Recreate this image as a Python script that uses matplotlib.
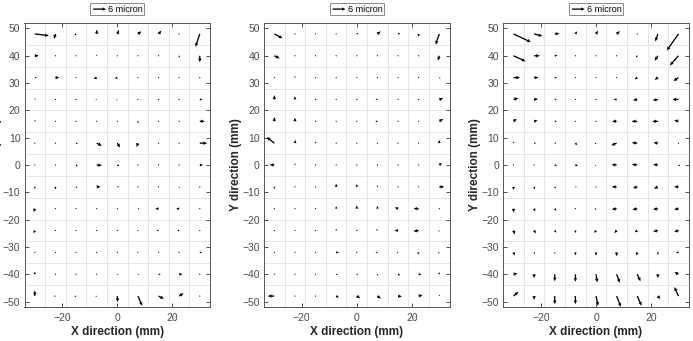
import matplotlib
matplotlib.use("Agg")
import matplotlib.pyplot as plt
import numpy as np

plt.rcParams['font.family'] = ['Liberation Sans', 'DejaVu Sans']

# grid of measuring points (mm)
x_pts = [-30, -22.5, -15, -7.5, 0, 7.5, 15, 22.5, 30]
y_pts = [48, 40, 32, 24, 16, 8, 0, -8, -16, -24, -32, -40, -48]

# displacement (micron), rows follow y_pts, columns follow x_pts
u1 = [[6.5, -0.6, -0.8, 0.1, 0.8, 1.6, 1.3, 0.2, -2.0],
      [1.8, 0.2, 0.2, -0.3, -0.3, 0.1, 0.1, 0.0, 0.0],
      [0.9, 1.8, 0.1, -1.4, -1.2, 0.3, 0.1, 0.1, 0.1],
      [0.2, 0.4, 0.1, -0.6, -0.5, 0.2, -0.6, -0.5, 1.2],
      [0.1, 0.1, 0.1, 0.1, 0.1, 0.0, 0.4, 0.3, 2.3],
      [0.1, 0.1, 0.9, 2.4, 1.3, -0.6, 0.1, 0.2, 3.4],
      [0.1, 0.1, 0.8, 2.4, 1.0, 0.1, 0.1, 0.1, 1.5],
      [0.0, 0.0, 0.6, 1.8, 0.8, 0.5, 0.1, 0.0, 0.1],
      [-0.5, 0.1, 0.1, 0.1, 0.1, 0.7, -1.5, -1.4, 0.1],
      [-0.5, 0.1, 0.5, 0.1, 0.1, 0.6, -1.0, -1.0, 0.1],
      [0.1, 0.0, 0.4, 0.3, 0.1, 0.3, 0.3, 0.3, 1.0],
      [0.0, 0.5, 0.1, 0.3, 0.5, 0.5, 1.0, 1.5, 0.4],
      [0.0, -0.8, -0.8, -0.6, 0.2, 2.0, 2.5, 2.0, 0.2]]
v1 = [[-0.8, -2.3, -0.6, 2.0, 1.8, 1.2, 1.5, 0.2, -6.0],
      [0.0, 0.1, 0.1, 0.6, 0.4, 0.1, 0.1, -0.9, -3.0],
      [0.0, 0.0, 0.1, -0.6, -0.4, 0.5, 0.1, 0.1, 0.1],
      [0.7, 0.0, 0.0, -0.2, -0.4, 0.1, 0.0, 0.0, 0.0],
      [0.8, 0.0, 0.0, 0.0, 0.1, -1.0, 0.4, 0.3, 0.0],
      [0.0, 0.0, -0.2, -1.2, -2.0, -1.8, 0.1, 0.5, 0.0],
      [0.0, 0.0, -0.6, -0.2, -0.5, 0.1, 0.0, 0.1, 0.0],
      [-1.0, -1.2, -0.6, 0.1, 0.1, 0.0, 0.0, -0.7, 0.0],
      [-1.6, 0.0, 0.0, 0.0, 0.0, 0.0, 0.0, 0.0, 0.0],
      [-1.3, 0.0, 0.0, 0.0, 0.0, 0.0, 0.0, 0.0, 0.0],
      [0.0, 0.6, -0.4, 0.0, 0.0, 0.0, 0.0, 0.0, 0.0],
      [1.2, 0.0, 0.0, 0.0, -0.4, -0.4, 0.0, 0.0, 0.0],
      [2.6, 0.0, -0.3, -0.3, -2.8, -4.5, -1.3, 1.4, 0.1]]

u2 = [[3.8, 0.1, 0.1, 0.1, 0.8, 1.5, 1.0, 0.0, -1.7],
      [2.5, 0.1, 0.1, 0.1, 0.1, 0.1, 0.1, 0.1, -0.6],
      [0.3, 0.0, 0.1, -0.6, -0.6, -0.6, 0.1, 0.1, 0.6],
      [0.0, 0.0, 0.1, 0.1, -0.6, -0.9, 0.1, -0.4, 1.8],
      [0.0, 0.0, 0.1, 0.1, -0.4, -1.0, 0.1, -0.4, 1.8],
      [-3.5, 0.3, 0.0, 0.1, 0.1, 0.1, 0.1, 0.1, 0.0],
      [-2.1, 0.0, 0.0, 0.1, 0.1, 0.1, 0.1, 0.1, 1.2],
      [0.0, 0.1, 0.3, 0.0, 0.0, 0.0, 0.1, 0.4, 2.3],
      [0.1, 0.1, 0.3, 0.0, 0.0, 0.0, -1.5, -2.4, 0.2],
      [0.1, 0.1, 0.1, 0.0, 0.0, -0.6, -1.6, -2.4, -0.5],
      [0.1, 0.1, 0.3, 1.3, 0.1, -0.9, -0.6, -0.4, -0.6],
      [0.1, 0.1, 0.1, 0.7, 0.6, 0.0, 1.0, 1.3, 0.0],
      [-3.0, 0.1, 0.5, 1.3, 1.6, 1.6, 1.8, 1.8, 0.0]]
v2 = [[-2.0, 0.0, 0.0, 0.0, 0.4, 1.2, 0.3, -1.3, -5.0],
      [-1.2, 0.0, 0.0, 0.0, 0.0, 0.0, 0.0, 0.0, -2.3],
      [-0.2, 0.8, 0.0, 0.0, 0.0, 0.0, 0.0, 0.0, -0.4],
      [2.0, 1.5, 0.0, 0.0, 0.0, 0.0, 0.0, 0.0, 0.5],
      [2.0, 1.7, 0.0, 0.0, 0.0, 0.0, 0.0, 0.0, 1.1],
      [2.8, 1.5, 0.8, 0.0, 0.0, 0.0, 0.0, 0.0, 1.5],
      [0.1, 0.8, 0.6, 0.0, 0.0, 0.0, 0.0, 0.0, 1.0],
      [-1.0, 0.0, 0.0, 1.5, 1.3, 0.8, 0.0, 0.0, 0.0],
      [0.0, 0.0, 0.0, 1.2, 1.5, 1.3, 0.6, 0.0, 0.0],
      [0.0, 0.0, 0.0, 0.9, 0.6, 0.6, 0.0, -0.3, -0.5],
      [0.0, 0.0, 0.0, 0.0, 0.0, 0.0, -0.4, -1.1, -0.5],
      [0.0, 0.0, 0.0, -0.4, -0.5, -0.8, -0.6, 0.0, 1.0],
      [0.0, 0.0, 0.0, -0.7, -1.0, -1.2, -0.2, 0.5, 0.7]]

u3 = [[8.0, 3.8, 2.2, 0.8, 1.0, 1.5, 0.6, -1.2, -5.4],
      [5.6, 2.6, 1.2, 0.1, 0.1, 0.1, -0.7, -1.5, -4.0],
      [3.0, 2.0, 1.0, 0.1, 0.6, -0.6, -1.2, -1.5, -2.3],
      [2.2, 1.8, 0.9, 0.1, 0.5, -1.3, -2.0, -2.4, -2.8],
      [1.5, 1.6, 1.0, 0.1, 0.5, -2.1, -2.6, -2.6, -2.0],
      [0.0, 0.9, 0.8, 0.9, -0.6, -2.5, -2.5, -2.0, -0.4],
      [0.1, 0.5, 1.0, 1.2, -0.5, -2.3, -2.5, -2.2, 0.8],
      [0.0, 0.3, 0.5, 0.7, -0.5, -2.2, -2.0, -1.8, -2.0],
      [0.0, 0.5, 0.7, 0.1, -0.7, -2.2, -2.2, -2.2, -2.0],
      [0.6, 0.8, 0.7, 0.0, -0.7, -1.0, -1.2, -2.2, -2.0],
      [0.6, 0.4, 0.0, 0.0, 0.0, 0.0, -0.4, 0.0, -1.2],
      [1.8, 0.0, 0.0, 0.0, 0.6, 1.5, 1.5, 0.0, -1.9],
      [2.3, 0.0, 0.0, 0.0, 1.0, 2.0, 2.0, 1.1, -1.9]]
v3 = [[-3.8, -1.0, 0.2, 1.2, 1.5, 1.3, 0.0, -3.5, -7.7],
      [-2.6, 0.0, 0.2, 0.0, 0.0, 0.0, -0.8, -2.3, -4.5],
      [0.0, 0.0, 0.0, 0.0, 0.0, 0.0, -0.8, -1.0, -1.6],
      [0.7, 0.3, 0.0, 0.0, 0.0, 0.0, -0.3, -0.4, 0.0],
      [1.2, 0.4, 0.0, 0.0, 0.0, 0.0, 0.0, 0.0, 0.5],
      [0.8, 0.0, 0.0, -0.9, -0.5, -1.0, 0.2, 0.2, 0.0],
      [0.0, 0.0, -0.4, -0.4, -0.4, 0.2, 0.3, 0.3, -0.5],
      [-1.5, -1.1, -0.8, 0.0, 0.0, 0.0, -0.6, -0.8, 0.0],
      [-1.8, -1.3, -1.0, 0.0, -0.5, -0.3, -0.4, -0.3, -0.3],
      [-1.8, -1.3, -1.0, -1.2, -1.2, -1.2, -0.8, -0.5, -0.6],
      [-1.4, -0.8, -0.8, -1.4, -1.5, -1.8, -1.5, -1.2, 0.0],
      [0.4, -1.8, -3.3, -3.5, -3.8, -4.0, -3.3, -1.8, 1.0],
      [2.0, -1.8, -3.8, -3.8, -4.5, -5.0, -4.5, -1.4, 4.2]]

panels = [(u1, v1), (u2, v2), (u3, v3)]
key_len = 6  # micron
key_label = '6 micron'

W, H = 693, 341
fig = plt.figure(figsize=(W / 100, H / 100), dpi=100)
lefts = [24.5, 264.0, 503.2]
ax_w, ax_h, ax_b = 185.6, 284.0, 34.0

X, Y = np.meshgrid(x_pts, y_pts)
gx = [-26.25, -18.75, -11.25, -3.75, 3.75, 11.25, 18.75, 26.25]
gy = [-44, -36, -28, -20, -12, -4, 4, 12, 20, 28, 36, 44]

for left, (u, v) in zip(lefts, panels):
    ax = fig.add_axes([left / W, ax_b / H, ax_w / W, ax_h / H])
    for g in gx:
        ax.axvline(g, color='#e6e6e6', lw=0.7, zorder=0)
    for g in gy:
        ax.axhline(g, color='#e6e6e6', lw=0.7, zorder=0)
    q = ax.quiver(X, Y, np.array(u), np.array(v), angles='xy', scale_units='xy',
                  scale=1.27, units='dots', width=1.3, headwidth=2.7,
                  headlength=3.0, headaxislength=2.7, minlength=1.0,
                  color='black', zorder=3)
    ax.set_xlim(-33.75, 33.75)
    ax.set_ylim(-52, 52)
    ax.set_xticks([-20, 0, 20])
    ax.set_yticks(np.arange(-50, 51, 10))
    ax.tick_params(direction='in', length=3, width=0.6, top=True, right=True,
                   labelsize=7.5, labelcolor='#4d4d4d', color='#333333')
    ax.tick_params(axis='x', pad=4)
    ax.tick_params(axis='y', pad=3)
    for s in ax.spines.values():
        s.set_color('#555555')
        s.set_linewidth(0.7)
    ax.set_xlabel('X direction (mm)', fontsize=8.5, fontweight='bold', color='#262626')
    ax.set_ylabel('Y direction (mm)', fontsize=8.5, fontweight='bold', color='#262626')
    ax.xaxis.set_label_coords(0.5, -0.087)
    ax.xaxis.label.set_va('center')
    ax.yaxis.set_label_coords(-0.152, 0.5)
    ax.yaxis.label.set_va('center')

    # legend box with the 6 micron key arrow
    ax.quiverkey(q, 0.44, 1.049, key_len, key_label, labelpos='E',
                 coordinates='axes', labelsep=0.02,
                 fontproperties={'size': 6.5})
    ax.add_patch(plt.Rectangle((0.353, 1.028), 0.291, 0.042,
                               transform=ax.transAxes, fill=False,
                               edgecolor='#777777', lw=0.6, clip_on=False))

fig.savefig('out.png', dpi=100)
